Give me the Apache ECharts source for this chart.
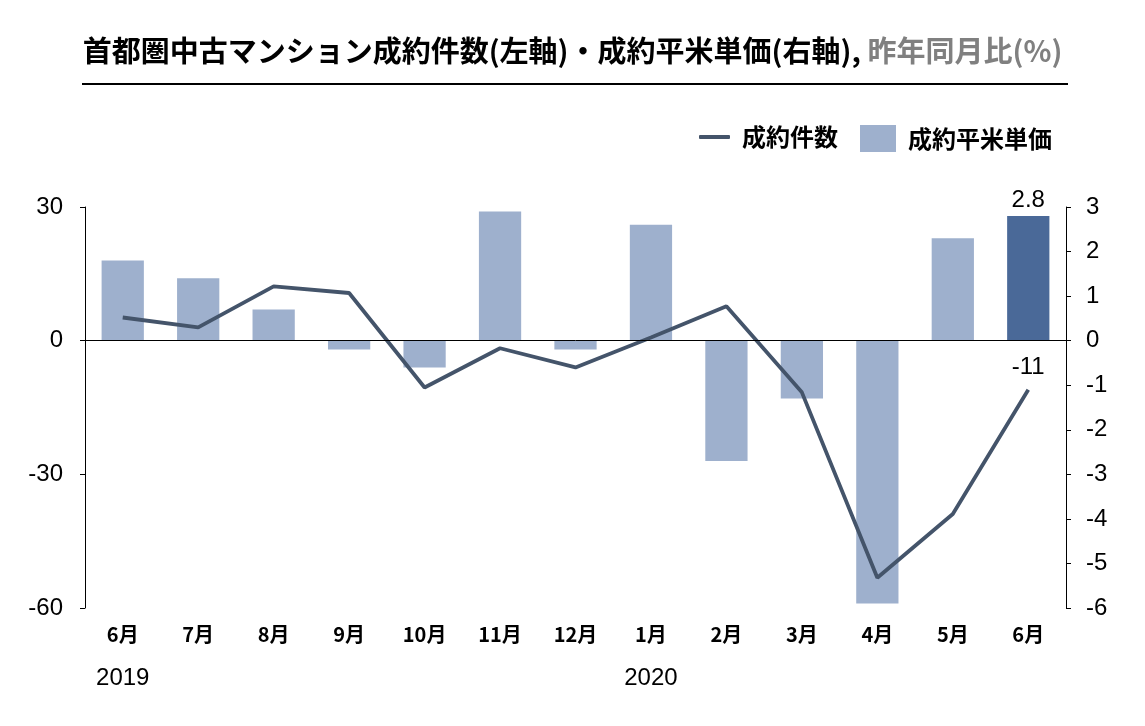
<!DOCTYPE html>
<html>
<head>
<meta charset="utf-8">
<script src="https://cdn.jsdelivr.net/npm/echarts@6/dist/echarts.min.js"></script>
<style>html,body{margin:0;padding:0;background:#fff}#c{width:1145px;height:726px}</style>
</head>
<body>
<div id="c"></div>
<script>
const months = ['6月','7月','8月','9月','10月','11月','12月','1月','2月','3月','4月','5月','6月'];
const years = ['2019','','','','','','','2020','','','','',''];
const contracts = [5.2, 3.0, 12.2, 10.7, -10.5, -1.7, -6.0, 0.7, 7.7, -11.6, -53.2, -38.9, -11];
const unitPrice = [1.8, 1.4, 0.7, -0.2, -0.6, 2.9, -0.2, 2.6, -2.7, -1.3, -5.9, 2.3, 2.8];
const leftTicks = {min: -60, max: 30, interval: 30};
const rightTicks = {min: -6, max: 3, interval: 1};

const lineColor = '#44546a';
const barColor = '#9eb0cd';
const lastBarColor = '#4a6998';
const n = months.length;
const cjk = 'Noto Sans CJK JP';

const chart = echarts.init(document.getElementById('c'), null, {renderer: 'canvas'});
chart.setOption({
  animation: false,
  textStyle: {fontFamily: 'Liberation Sans, Arial, sans-serif'},
  title: {
    text: '{a|首都圏中古マンション成約件数(左軸)・成約平米単価(右軸), }{b|昨年同月比(%)}',
    left: 'center',
    top: 31,
    textStyle: {
      rich: {
        a: {fontSize: 29, fontWeight: 'bold', color: '#000', fontFamily: cjk},
        b: {fontSize: 29, fontWeight: 'bold', color: '#808080', fontFamily: cjk}
      }
    }
  },
  graphic: [{
    type: 'line',
    shape: {x1: 82, y1: 84, x2: 1068, y2: 84},
    style: {stroke: '#000', lineWidth: 2}
  }],
  legend: [{
    right: 302,
    top: 120,
    itemWidth: 31,
    itemHeight: 4,
    icon: 'roundRect',
    data: ['成約件数'],
    textStyle: {fontSize: 24, fontWeight: 'bold', color: '#000', fontFamily: cjk, padding: [0, 0, 0, 7]}
  }, {
    right: 88,
    top: 120,
    itemWidth: 36,
    itemHeight: 27,
    icon: 'rect',
    data: ['成約平米単価'],
    textStyle: {fontSize: 24, fontWeight: 'bold', color: '#000', fontFamily: cjk, padding: [0, 0, 0, 7]}
  }],
  grid: {left: 85, right: 79, top: 207, bottom: 118, containLabel: false},
  xAxis: {
    type: 'category',
    data: months,
    axisLine: {show: false},
    axisTick: {show: false},
    axisLabel: {
      interval: 0,
      margin: 13,
      formatter: function (v, i) {
        return years[i] ? '{m|' + v + '}\n{y|' + years[i] + '}' : '{m|' + v + '}';
      },
      rich: {
        m: {fontSize: 20, fontWeight: 'bold', fontFamily: cjk, color: '#000', lineHeight: 26},
        y: {fontSize: 24, fontFamily: 'Liberation Sans', color: '#000', lineHeight: 62}
      }
    }
  },
  yAxis: [{
    type: 'value',
    position: 'left',
    min: leftTicks.min, max: leftTicks.max, interval: leftTicks.interval,
    axisLine: {show: true, lineStyle: {color: '#000', width: 1}},
    axisTick: {show: true, length: 5, lineStyle: {color: '#000'}},
    splitLine: {show: false},
    axisLabel: {fontSize: 24, color: '#000', margin: 22}
  }, {
    type: 'value',
    position: 'right',
    min: rightTicks.min, max: rightTicks.max, interval: rightTicks.interval,
    axisLine: {show: true, lineStyle: {color: '#000', width: 1}},
    axisTick: {show: true, length: 5, lineStyle: {color: '#000'}},
    splitLine: {show: false},
    axisLabel: {fontSize: 24, color: '#000', margin: 20}
  }],
  series: [{
    name: '成約平米単価',
    type: 'bar',
    yAxisIndex: 1,
    barWidth: '56%',
    itemStyle: {color: barColor},
    data: unitPrice.map(function (v, i) {
      if (i === n - 1) {
        return {value: v, itemStyle: {color: lastBarColor},
          label: {show: true, position: 'top', fontSize: 24, color: '#000', distance: 4, formatter: function (p) { return p.value.toFixed(1); }}};
      }
      return v;
    }),
    markLine: {
      silent: true,
      symbol: 'none',
      label: {show: false},
      lineStyle: {color: '#000', width: 1, type: 'solid'},
      data: [{yAxis: 0}]
    },
    z: 2
  }, {
    name: '成約件数',
    type: 'line',
    yAxisIndex: 0,
    symbol: 'circle',
    symbolSize: 0.1,
    showSymbol: true,
    lineStyle: {color: lineColor, width: 3.8},
    itemStyle: {color: lineColor},
    data: contracts.map(function (v, i) {
      if (i === n - 1) {
        return {value: v, label: {show: true, position: 'top', fontSize: 24, color: '#000', distance: 10}};
      }
      return v;
    }),
    z: 3
  }]
});
</script>
</body>
</html>
